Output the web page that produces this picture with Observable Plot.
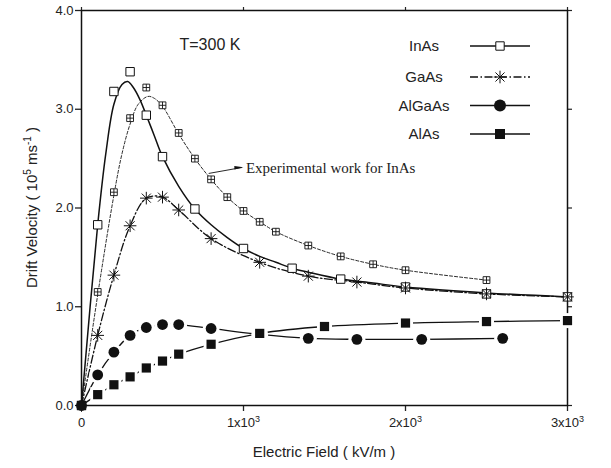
<!DOCTYPE html>
<html><head><meta charset="utf-8">
<script src="https://cdn.jsdelivr.net/npm/d3@7"></script>
<script src="https://cdn.jsdelivr.net/npm/@observablehq/plot@0.6"></script>
<style>body{margin:0;background:#fff} svg{font-family:Arial,"Liberation Sans",sans-serif}</style>
</head><body><div id="chart"></div>
<script>
// ---------- data ----------
const inasField = [0,100,200,300,400,500,700,1000,1300,1600,2000,2500,3000];
const inasVel   = [0,1.83,3.18,3.38,2.94,2.52,1.99,1.59,1.39,1.28,1.20,1.13,1.10];
const inasFitField = [0,100,150,200,250,285,320,360,400,450,500,600,700,800,900,1000,1100,1200,1300,1400,1600,1800,2000,2500,3000];
const inasFitVel   = [0,1.83,2.55,3.05,3.25,3.28,3.22,3.10,2.94,2.73,2.52,2.22,1.99,1.83,1.70,1.59,1.51,1.45,1.39,1.35,1.28,1.24,1.20,1.14,1.10];

const expField = [0,100,200,300,400,500,600,700,800,900,1000,1100,1200,1400,1600,1800,2000,2500];
const expVel   = [0,1.15,2.16,2.91,3.22,3.04,2.76,2.50,2.29,2.11,1.97,1.86,1.76,1.62,1.51,1.43,1.37,1.27];
const expFitField = [0,100,200,250,300,350,410,450,500,600,700,800,900,1000,1100,1200,1400,1600,1800,2000,2500];
const expFitVel   = [0,1.12,2.13,2.55,2.85,3.05,3.13,3.11,3.03,2.75,2.50,2.29,2.11,1.97,1.86,1.76,1.62,1.51,1.43,1.37,1.27];

const gaasField = [0,100,200,300,400,500,600,800,1100,1400,1700,2000,2500,3000];
const gaasVel   = [0,0.71,1.32,1.82,2.10,2.11,1.98,1.69,1.45,1.31,1.25,1.19,1.13,1.10];

const algaasField = [0,100,200,300,400,500,600,800,1100,1400,1700,2100,2600];
const algaasVel   = [0,0.31,0.54,0.71,0.79,0.82,0.82,0.78,0.72,0.68,0.67,0.67,0.68];

const alasField = [0,100,200,300,400,500,600,800,1100,1500,2000,2500,3000];
const alasVel   = [0,0.11,0.21,0.29,0.38,0.45,0.52,0.62,0.73,0.80,0.835,0.85,0.86];

const xTicks = [0,1000,2000,3000];
const xTickBase = ["0","1x10","2x10","3x10"];
const xTickSup  = ["","3","3","3"];
const yTicks = [0,1,2,3,4];
const yTickLabels = ["0.0","1.0","2.0","3.0","4.0"];

const legendNames = ["InAs","GaAs","AlGaAs","AlAs"];
const annotationText = "Experimental work for InAs";
const arrowFrom = {x: 785, y: 2.35};
const arrowTo = {x: 990, y: 2.41};
const tempText = "T=300 K";

// ---------- helpers ----------
const table = (xs, ys) => xs.map((x, i) => ({x, y: ys[i]}));
const inas = table(inasField, inasVel), inasFit = table(inasFitField, inasFitVel);
const exp = table(expField, expVel), expFit = table(expFitField, expFitVel);
const gaas = table(gaasField, gaasVel), algaas = table(algaasField, algaasVel), alas = table(alasField, alasVel);

const rOf = s => Math.sqrt(s / Math.PI);
const squareSym = {draw(c, s){ const r = rOf(s); c.moveTo(-r,-r); c.lineTo(r,-r); c.lineTo(r,r); c.lineTo(-r,r); c.closePath(); }};
const crossSquareSym = {draw(c, s){ const r = rOf(s); c.moveTo(-r,-r); c.lineTo(r,-r); c.lineTo(r,r); c.lineTo(-r,r); c.closePath();
  c.moveTo(0,-r); c.lineTo(0,r); c.moveTo(-r,0); c.lineTo(r,0); }};
const asteriskSym = {draw(c, s){ const r = rOf(s); const d = r*0.72;
  c.moveTo(0,-r); c.lineTo(0,r); c.moveTo(-r,0); c.lineTo(r,0);
  c.moveTo(-d,-d); c.lineTo(d,d); c.moveTo(-d,d); c.lineTo(d,-d); }};
const triSym = {draw(c, s){ const r = rOf(s); c.moveTo(r,0); c.lineTo(-r,-r*0.4); c.lineTo(-r,r*0.4); c.closePath(); }};

const K = "#111";
const dashGaAs = "8,2.5,1.5,2.5";
const dashExp = "3,2";
const serif = "'Liberation Serif','Times New Roman',serif";

const W = 611, H = 468;
const plot = Plot.plot({
  width: W, height: H,
  marginLeft: 81, marginRight: 44, marginTop: 10, marginBottom: 63,
  style: {fontFamily: "Arial, 'Liberation Sans', sans-serif", fontSize: "13px", color: "#222", background: "white", overflow: "visible"},
  x: {domain: [0, 3000]},
  y: {domain: [0, 4]},
  marks: [
    Plot.axisX({ticks: xTicks, tickFormat: d => xTickBase[xTicks.indexOf(d)] + "^" + xTickSup[xTicks.indexOf(d)], tickSize: 6, tickPadding: 6, label: null, fontSize: 13, strokeWidth: 1.3}),
    Plot.axisX({anchor: "top", ticks: xTicks, tickFormat: () => "", tickSize: 4, label: null, strokeWidth: 1.2}),
    Plot.axisY({ticks: yTicks, tickFormat: d => yTickLabels[yTicks.indexOf(d)], tickSize: 6, tickPadding: 2, label: null, fontSize: 13, strokeWidth: 1.3}),
    Plot.axisY({anchor: "right", ticks: yTicks, tickFormat: () => "", tickSize: 4, label: null, strokeWidth: 1.2}),
    Plot.frame({stroke: K, strokeWidth: 1.5}),
    // lines
    Plot.line(expFit, {x: "x", y: "y", curve: "catmull-rom", stroke: K, strokeWidth: 0.9, strokeDasharray: dashExp}),
    Plot.line(inasFit, {x: "x", y: "y", curve: "catmull-rom", stroke: K, strokeWidth: 1.5}),
    Plot.line(gaas, {x: "x", y: "y", curve: "catmull-rom", stroke: K, strokeWidth: 1.3, strokeDasharray: dashGaAs}),
    Plot.line(algaas, {x: "x", y: "y", curve: "catmull-rom", stroke: K, strokeWidth: 1.3}),
    Plot.line(alas, {x: "x", y: "y", curve: "catmull-rom", stroke: K, strokeWidth: 1.3}),
    // markers
    Plot.dot(exp, {x: "x", y: "y", symbol: crossSquareSym, r: 3.4, fill: "white", stroke: K, strokeWidth: 0.9}),
    Plot.dot(inas, {x: "x", y: "y", symbol: squareSym, r: 4.2, fill: "white", stroke: K, strokeWidth: 1}),
    Plot.dot(gaas, {x: "x", y: "y", symbol: asteriskSym, r: 6.3, fill: "none", stroke: K, strokeWidth: 1}),
    Plot.dot(algaas.filter(d => d.x > 0), {x: "x", y: "y", r: 8.5, fill: "white", stroke: "none"}),
    Plot.dot(algaas, {x: "x", y: "y", r: 5.4, fill: K, stroke: "none"}),
    Plot.dot(alas.filter(d => d.x > 0), {x: "x", y: "y", symbol: squareSym, r: 7.5, fill: "white", stroke: "none"}),
    Plot.dot(alas, {x: "x", y: "y", symbol: squareSym, r: 4.6, fill: K, stroke: "none"}),
    // annotation arrow + text
    Plot.link([{x1: arrowFrom.x, y1: arrowFrom.y, x2: arrowTo.x, y2: arrowTo.y}], {x1: "x1", y1: "y1", x2: "x2", y2: "y2", stroke: K, strokeWidth: 0.9}),
    Plot.dot([arrowTo], {x: "x", y: "y", symbol: triSym, r: 4.5, fill: K, stroke: "none", rotate: -3, dx: -3}),
    Plot.text([arrowTo], {x: "x", y: "y", text: () => annotationText, textAnchor: "start", dx: 4, dy: 1, fontFamily: serif, fontSize: 15, fill: "#222"}),
    Plot.text([tempText], {frameAnchor: "top-left", text: d => d, dx: 98, dy: 28, fontSize: 16, fill: "#222", textAnchor: "start"})
  ]
});
document.getElementById("chart").appendChild(plot);

// ---------- superscripts in x tick labels ----------
const svg = d3.select(plot);
svg.selectAll("text").each(function() {
  const t = this.textContent;
  if (!t.includes("^") || this.querySelector("tspan")) return;
  const [base, sup] = t.split("^");
  const el = d3.select(this);
  el.text(null);
  el.append("tspan").text(base);
  if (sup) el.append("tspan").attr("font-size", 9).attr("dy", "-0.55em").text(sup);
});

// ---------- axis titles and legend ----------
const x0 = 81, x1 = W - 44, y0 = H - 63, y1 = 10;

svg.append("text").attr("x", (x0 + x1) / 2).attr("y", 457).attr("text-anchor", "middle")
  .attr("font-size", 15).attr("fill", "#222").text("Electric Field ( kV/m )");
const yl = svg.append("text").attr("transform", `translate(37,${(y0 + y1) / 2}) rotate(-90)`)
  .attr("text-anchor", "middle").attr("font-size", 15).attr("fill", "#222");
yl.append("tspan").text("Drift Velocity ( 10");
yl.append("tspan").attr("font-size", 10).attr("dy", -6).text("5");
yl.append("tspan").attr("dy", 6).text(" ms");
yl.append("tspan").attr("font-size", 10).attr("dy", -6).text("-1");
yl.append("tspan").attr("dy", 6).text(" )");

const legY = [46, 77, 105.5, 134];
const legTextX = 424, legL = 470, legR = 530, legM = 500;
const g = svg.append("g");
const sym = (type, r) => d3.symbol().type(type).size(r * r * Math.PI)();
legendNames.forEach((name, i) => {
  const y = legY[i];
  g.append("text").attr("x", legTextX).attr("y", y).attr("dy", "0.36em").attr("text-anchor", "middle")
    .attr("font-size", 15).attr("fill", "#222").text(name);
  const ln = g.append("line").attr("x1", legL).attr("x2", legR).attr("y1", y).attr("y2", y)
    .attr("stroke", K).attr("stroke-width", 1.3);
  if (i === 1) ln.attr("stroke-dasharray", dashGaAs);
  const p = g.append("path").attr("transform", `translate(${legM},${y})`);
  if (i === 0) p.attr("d", sym(squareSym, 4.2)).attr("fill", "white").attr("stroke", K);
  if (i === 1) p.attr("d", sym(asteriskSym, 6.3)).attr("fill", "none").attr("stroke", K);
  if (i === 2) p.attr("d", sym(d3.symbolCircle, 6)).attr("fill", K);
  if (i === 3) p.attr("d", sym(squareSym, 5)).attr("fill", K);
});
</script></body></html>
